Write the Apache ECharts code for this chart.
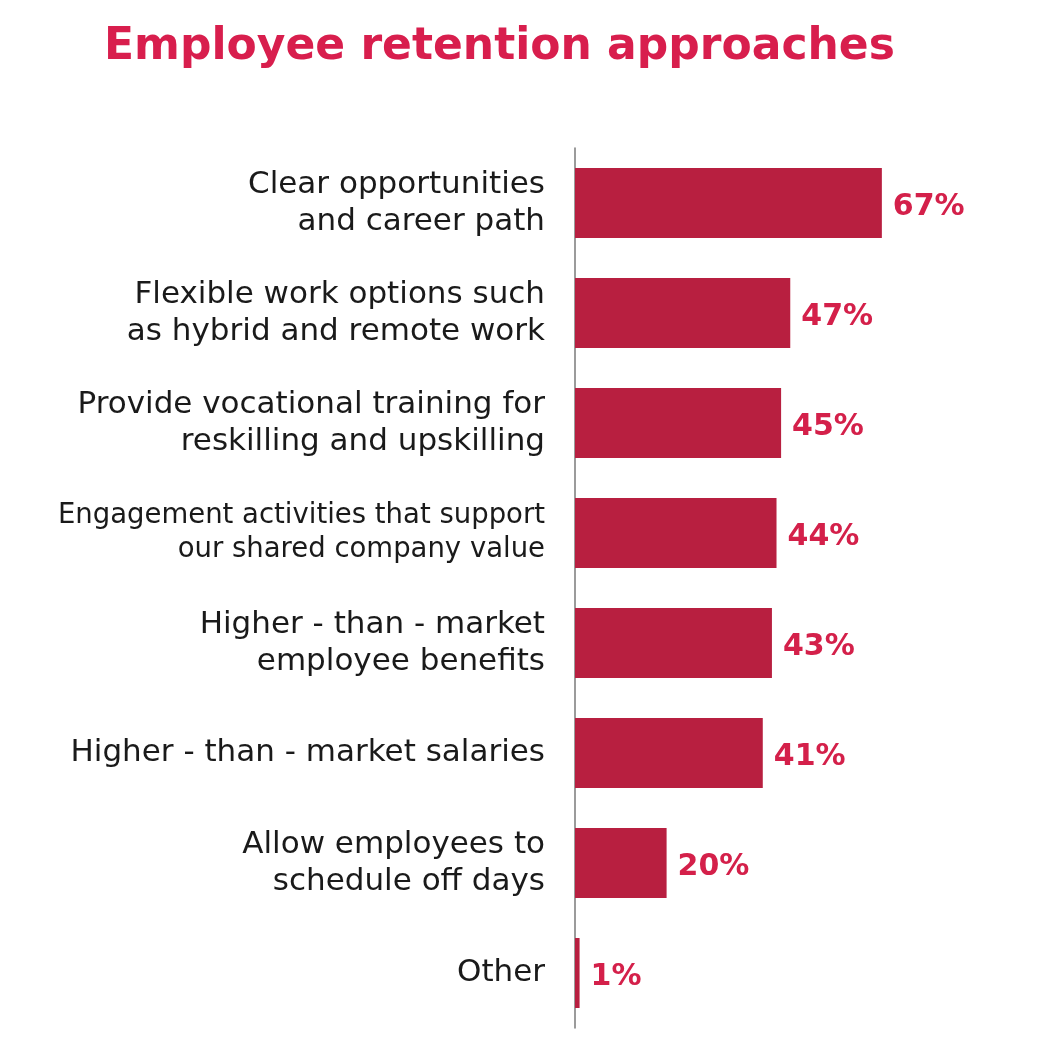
<!DOCTYPE html>
<html><head><meta charset="utf-8">
<script src="https://cdn.jsdelivr.net/npm/echarts@6/dist/echarts.min.js"></script>
<style>html,body{margin:0;padding:0;background:#fff}#c{width:1040px;height:1040px}</style>
</head><body><div id="c"></div>
<script>
const categories = [
  "Clear opportunities\nand career path",
  "Flexible work options such\nas hybrid and remote work",
  "Provide vocational training for\nreskilling and upskilling",
  "Engagement activities that support\nour shared company value",
  "Higher - than - market\nemployee benefits",
  "Higher - than - market salaries",
  "Allow employees to\nschedule off days",
  "Other"
];
const values = [67, 47, 45, 44, 43, 41, 20, 1];
const smallLabels = ["Engagement activities that support\nour shared company value"];

const chart = echarts.init(document.getElementById('c'));
chart.setOption({
  animation: false,
  backgroundColor: '#fff',
  title: {
    text: 'Employee retention approaches',
    left: 99, top: 21,
    textStyle: {color: '#D81E4D', fontSize: 44, fontWeight: 'bold', fontFamily: 'DejaVu Sans'}
  },
  grid: {left: 575, right: 7, top: 148, bottom: 12, containLabel: false},
  xAxis: {type: 'value', min: 0, max: 100, show: false},
  yAxis: {
    type: 'category', inverse: true,
    data: categories.map(c => smallLabels.includes(c) ? {value: c, textStyle: {fontSize: 27.5, lineHeight: 34}} : c),
    axisLine: {show: true, lineStyle: {color: '#7a7a7a', width: 1.5}},
    axisTick: {show: false},
    axisLabel: {color: '#1a1a1a', fontSize: 31, lineHeight: 37, margin: 30, align: 'right', fontFamily: 'DejaVu Sans'}
  },
  series: [{
    type: 'bar', data: values, barWidth: 70,
    itemStyle: {color: '#B81F40'},
    label: {show: true, position: 'right', distance: 11, offset: [0, 4], formatter: '{c}%',
      color: '#D4204A', fontSize: 30, fontWeight: 'bold', fontFamily: 'DejaVu Sans'}
  }]
});
</script></body></html>
